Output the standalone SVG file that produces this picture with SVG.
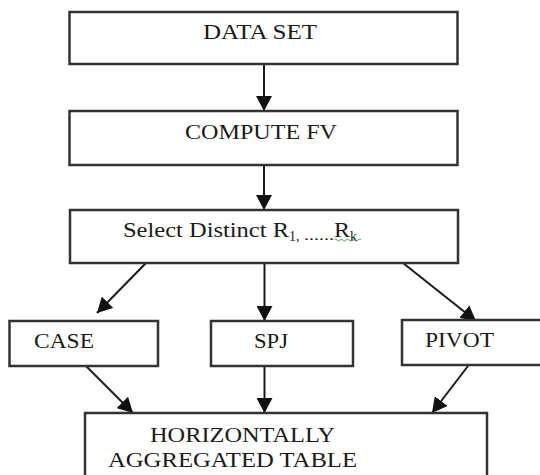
<svg xmlns="http://www.w3.org/2000/svg" width="540" height="475" viewBox="0 0 540 475">
<style>
.box{fill:#fff;stroke:#333;stroke-width:2.5}
.lbl{font-family:"Liberation Serif","Times New Roman",serif;font-size:22px;fill:#1a1a1a}
.sub{font-family:"Liberation Serif","Times New Roman",serif;font-size:14px;fill:#1a1a1a}
.conn{stroke:#1a1a1a;stroke-width:2;fill:none;marker-end:url(#ah)}
</style>
<defs>
<marker id="ah" markerUnits="userSpaceOnUse" markerWidth="16" markerHeight="16" refX="15" refY="8" orient="auto">
<path d="M0,0 L15,8 L0,16 z" fill="#111"/>
</marker>
</defs>
<rect width="540" height="475" fill="#fff"/>
<g id="connectors">
<line class="conn" x1="264" y1="64" x2="264" y2="111"/>
<line class="conn" x1="264" y1="165" x2="264" y2="210"/>
<line class="conn" x1="146" y1="263" x2="97" y2="313"/>
<line class="conn" x1="264.5" y1="263" x2="264.5" y2="321"/>
<line class="conn" x1="403" y1="263" x2="476" y2="321"/>
<line class="conn" x1="86" y1="366" x2="133" y2="413"/>
<line class="conn" x1="264.5" y1="366" x2="264.5" y2="413"/>
<line class="conn" x1="468" y1="366" x2="432" y2="413"/>
</g>
<g id="dataset">
<rect class="box" x="69.5" y="12" width="388" height="52"/>
<text class="lbl" x="203" y="39" textLength="114" lengthAdjust="spacingAndGlyphs">DATA SET</text>
</g>
<g id="computefv">
<rect class="box" x="69.5" y="111" width="388" height="54"/>
<text class="lbl" x="185" y="139" textLength="152" lengthAdjust="spacingAndGlyphs">COMPUTE FV</text>
</g>
<g id="selectdistinct">
<rect class="box" x="70" y="210" width="388" height="53"/>
<text class="lbl" x="123" y="237" textLength="166" lengthAdjust="spacingAndGlyphs">Select Distinct R</text>
<text class="sub" x="289" y="241">1,</text>
<text class="sub" x="304" y="240" textLength="30" lengthAdjust="spacingAndGlyphs">......</text>
<text class="lbl" x="334" y="237" textLength="16" lengthAdjust="spacingAndGlyphs">R</text>
<text class="sub" x="350" y="241">k</text>
<path d="M334,240 q1.5,-2 3,0 t3,0 t3,0 t3,0 t3,0 t3,0 t3,0 t3,0 t3,0" fill="none" stroke="#3a9a3a" stroke-width="0.9"/>
</g>
<g id="case">
<rect class="box" x="9.5" y="321" width="148.5" height="45"/>
<text class="lbl" x="34" y="348" textLength="60" lengthAdjust="spacingAndGlyphs">CASE</text>
</g>
<g id="spj">
<rect class="box" x="211" y="321" width="142" height="45"/>
<text class="lbl" x="254" y="348" textLength="34" lengthAdjust="spacingAndGlyphs">SPJ</text>
</g>
<g id="pivot">
<rect class="box" x="402" y="320" width="150" height="45"/>
<text class="lbl" x="425" y="347" textLength="69" lengthAdjust="spacingAndGlyphs">PIVOT</text>
</g>
<g id="result">
<rect class="box" x="85" y="413" width="402" height="80"/>
<text class="lbl" x="150" y="442" textLength="185" lengthAdjust="spacingAndGlyphs">HORIZONTALLY</text>
<text class="lbl" x="108" y="467" textLength="249" lengthAdjust="spacingAndGlyphs">AGGREGATED TABLE</text>
</g>
</svg>
